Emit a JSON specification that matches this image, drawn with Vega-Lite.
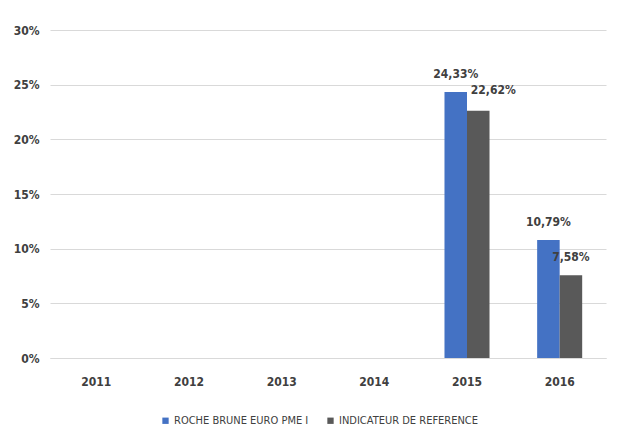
{
  "$schema": "https://vega.github.io/schema/vega-lite/v6.json",
  "autosize": "none",
  "width": 556,
  "height": 328,
  "padding": {"left": 50, "top": 30, "right": 11, "bottom": 87},
  "background": "white",
  "config": {
    "locale": {"number": {"decimal": ",", "thousands": " ", "grouping": [3], "currency": ["", " €"]}},
    "view": {"stroke": null},
    "font": "DejaVu Sans Condensed, DejaVu Sans, sans-serif"
  },
  "data": {
    "values": [
      {"year": "2015", "series": "ROCHE BRUNE EURO PME I", "value": 0.2433},
      {"year": "2015", "series": "INDICATEUR DE REFERENCE", "value": 0.2262},
      {"year": "2016", "series": "ROCHE BRUNE EURO PME I", "value": 0.1079},
      {"year": "2016", "series": "INDICATEUR DE REFERENCE", "value": 0.0758}
    ]
  },
  "encoding": {
    "x": {
      "field": "year", "type": "nominal",
      "scale": {"domain": ["2011", "2012", "2013", "2014", "2015", "2016"], "paddingInner": 0.514, "paddingOuter": 0.257},
      "axis": {"title": null, "labelAngle": 0, "ticks": false, "domainColor": "#d9d9d9", "labelPadding": 18, "labelFont": "DejaVu Sans Condensed, DejaVu Sans, sans-serif", "labelFontSize": 12, "labelFontWeight": "bold", "labelColor": "#404040"}
    },
    "xOffset": {"field": "series", "type": "nominal", "scale": {"domain": ["ROCHE BRUNE EURO PME I", "INDICATEUR DE REFERENCE"]}},
    "y": {
      "field": "value", "type": "quantitative",
      "scale": {"domain": [0, 0.3], "nice": false},
      "axis": {"title": null, "format": ".0%", "values": [0, 0.05, 0.1, 0.15, 0.2, 0.25, 0.3], "ticks": false, "domain": false, "gridColor": "#d9d9d9", "labelPadding": 11, "labelOverlap": false, "labelFont": "DejaVu Sans Condensed, DejaVu Sans, sans-serif", "labelFontSize": 12, "labelFontWeight": "bold", "labelColor": "#404040"}
    }
  },
  "layer": [
    {
      "mark": {"type": "bar"},
      "encoding": {
        "color": {
          "field": "series", "type": "nominal",
          "scale": {"domain": ["ROCHE BRUNE EURO PME I", "INDICATEUR DE REFERENCE"], "range": ["#4472C4", "#595959"]},
          "legend": {"title": null, "orient": "none", "legendX": 110, "legendY": 385, "direction": "horizontal", "symbolType": "square", "symbolSize": 40, "labelLimit": 300, "labelFont": "DejaVu Sans Condensed, DejaVu Sans, sans-serif", "labelFontSize": 11, "labelColor": "#404040", "columnPadding": 16, "labelOffset": 3}
        }
      }
    },
    {
      "transform": [{"filter": "datum.value != 0.2262"}],
      "mark": {"type": "text", "baseline": "bottom", "dy": -11, "fontSize": 12, "fontWeight": "bold", "color": "#404040", "font": "DejaVu Sans Condensed, DejaVu Sans, sans-serif"},
      "encoding": {"text": {"field": "value", "type": "quantitative", "format": ".2%"}}
    },
    {
      "transform": [{"filter": "datum.value == 0.2262"}],
      "mark": {"type": "text", "baseline": "bottom", "dy": -14, "dx": 15, "fontSize": 12, "fontWeight": "bold", "color": "#404040", "font": "DejaVu Sans Condensed, DejaVu Sans, sans-serif"},
      "encoding": {"text": {"field": "value", "type": "quantitative", "format": ".2%"}}
    }
  ]
}
